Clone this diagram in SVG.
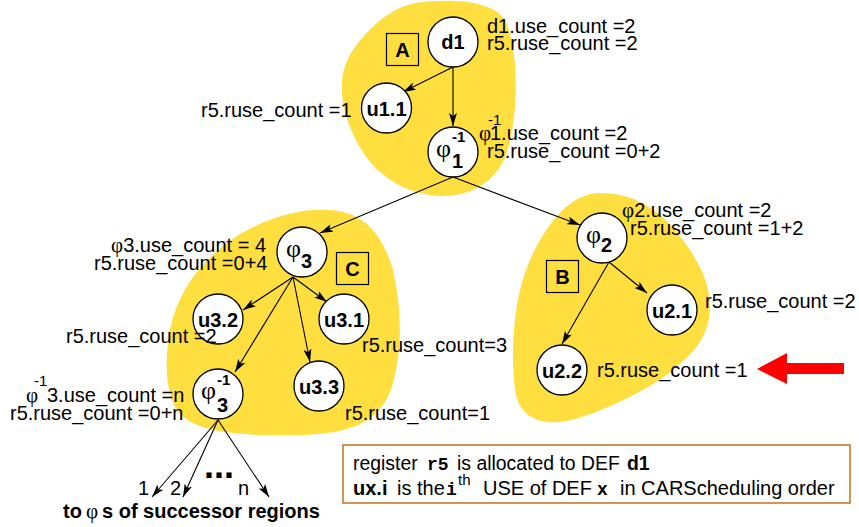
<svg xmlns="http://www.w3.org/2000/svg" width="859" height="527" viewBox="0 0 859 527">
<style>
.blob{fill:#ffdf3f;stroke:none}
.node{fill:#fff;stroke:#000;stroke-width:1.3}
.box{fill:none;stroke:#000;stroke-width:1.2}
.lbl{font-family:"Liberation Sans",Arial,sans-serif;font-size:20px;font-weight:bold;text-anchor:middle}
.t{font-family:"Liberation Sans",Arial,sans-serif;font-size:20px}
.l1{font-size:19.4px}
.b{font-weight:bold}
.m{font-family:"Liberation Mono","Courier New",monospace;font-weight:bold;font-size:18px}
.phi{font-family:"Liberation Serif","Times New Roman",serif;font-size:26px}
.ph{font-family:"Liberation Serif","Times New Roman",serif;font-size:21px}
.sub{font-family:"Liberation Sans",Arial,sans-serif;font-size:20px;font-weight:bold}
.sup{font-family:"Liberation Sans",Arial,sans-serif;font-size:15px;font-weight:bold}
.sm{font-size:15px}
.dots{font-size:36px;font-weight:bold}
.conn line{stroke:#000;stroke-width:1.1;marker-end:url(#ah)}
</style>
<defs>
<marker id="ah" viewBox="0 0 13 8" refX="13" refY="4" markerWidth="13" markerHeight="8" markerUnits="userSpaceOnUse" orient="auto">
<path d="M0,0 L13,4 L0,8 L3,4 Z" fill="#000"/>
</marker>
</defs>
<rect width="859" height="527" fill="#fff"/>

<g id="regions">
<path id="regionA" class="blob" d="M415,3 C450,-2 495,0 506,22 C520,55 518,120 506,155 C496,182 470,197 440,196 C402,194 372,172 357,142 C341,112 336,80 350,55 C365,30 390,8 415,3 Z"/>
<path id="regionC" class="blob" d="M330,210 C362,212 382,232 393,270 C403,312 402,360 390,392 C378,422 350,434 300,435 C250,436 202,434 182,416 C165,400 164,360 170,330 C178,290 202,258 240,234 C270,217 300,208 330,210 Z"/>
<path id="regionB" class="blob" d="M600,193 C640,193 667,215 690,250 C710,280 718,312 700,342 C680,372 632,400 582,417 C546,429 522,420 516,395 C510,360 512,300 530,260 C546,224 570,193 600,193 Z"/>
</g>

<g id="connectors" class="conn">
<line x1="453" y1="67" x2="403" y2="92"/>
<line x1="453" y1="67" x2="453" y2="126"/>
<line x1="453" y1="177" x2="320" y2="233"/>
<line x1="453" y1="177" x2="580" y2="225"/>
<line x1="293" y1="277" x2="243" y2="310"/>
<line x1="293" y1="277" x2="327" y2="302"/>
<line x1="293" y1="277" x2="310" y2="362"/>
<line x1="293" y1="277" x2="235" y2="372"/>
<line x1="609" y1="262" x2="647" y2="293"/>
<line x1="609" y1="262" x2="562" y2="344"/>
<line x1="218" y1="420" x2="152" y2="497"/>
<line x1="218" y1="420" x2="183" y2="497"/>
<line x1="218" y1="420" x2="269" y2="497"/>
</g>

<g id="boxA"><rect class="box" x="386.5" y="33.5" width="32" height="32"/><text class="lbl" x="402.5" y="57">A</text></g>
<g id="boxC"><rect class="box" x="336.5" y="252.5" width="32" height="32"/><text class="lbl" x="352.5" y="276">C</text></g>
<g id="boxB"><rect class="box" x="546.5" y="260.5" width="32" height="32"/><text class="lbl" x="562.5" y="284">B</text></g>

<g id="d1"><circle class="node" cx="453" cy="42" r="25"/><text class="lbl" x="453" y="49">d1</text></g>
<g id="u1.1"><circle class="node" cx="386.5" cy="108" r="25"/><text class="lbl" x="386.5" y="116">u1.1</text></g>
<g id="phi1inv"><circle class="node" cx="453" cy="152" r="25"/>
<text class="phi" x="436" y="157">φ</text><text class="sup" x="452" y="142">-1</text><text class="sub" x="452" y="168">1</text></g>
<g id="phi3"><circle class="node" cx="302" cy="252" r="25"/>
<text class="phi" x="286" y="257">φ</text><text class="sub" x="301" y="268">3</text></g>
<g id="u3.2"><circle class="node" cx="218" cy="319" r="25"/><text class="lbl" x="218" y="327">u3.2</text></g>
<g id="u3.1"><circle class="node" cx="344" cy="319" r="25"/><text class="lbl" x="344" y="327">u3.1</text></g>
<g id="u3.3"><circle class="node" cx="319" cy="386" r="25"/><text class="lbl" x="319" y="394">u3.3</text></g>
<g id="phi3inv"><circle class="node" cx="218" cy="394" r="25"/>
<text class="phi" x="201" y="399">φ</text><text class="sup" x="217" y="385">-1</text><text class="sub" x="217" y="412">3</text></g>
<g id="phi2"><circle class="node" cx="602" cy="238" r="25"/>
<text class="phi" x="586" y="243">φ</text><text class="sub" x="601" y="252">2</text></g>
<g id="u2.1"><circle class="node" cx="672" cy="310" r="25"/><text class="lbl" x="672" y="318">u2.1</text></g>
<g id="u2.2"><circle class="node" cx="562" cy="370" r="25"/><text class="lbl" x="562" y="378">u2.2</text></g>

<g id="annotations">
<text class="t" x="487" y="33">d1.use_count =2</text>
<text class="t" x="487" y="50">r5.ruse_count =2</text>
<text class="t" x="201" y="117">r5.ruse_count =1</text>
<text class="ph" x="479" y="140">φ</text>
<text class="t sm" x="488" y="125">-1</text>
<text class="t" x="490" y="140">1.use_count =2</text>
<text class="t" x="487" y="158">r5.ruse_count =0+2</text>
<text class="t" x="111" y="252"><tspan class="ph">φ</tspan>3.use_count = 4</text>
<text class="t" x="94" y="270">r5.ruse_count =0+4</text>
<text class="t" x="66" y="343">r5.ruse_count =2</text>
<text class="t" x="362" y="352">r5.ruse_count=3</text>
<text class="t" x="345" y="420">r5.ruse_count=1</text>
<text class="ph" x="26" y="402">φ</text>
<text class="t sm" x="34" y="386">-1</text>
<text class="t" x="47" y="402">3.use_count =n</text>
<text class="t" x="10" y="420">r5.ruse_count =0+n</text>
<text class="t" x="622" y="217"><tspan class="ph">φ</tspan>2.use_count =2</text>
<text class="t" x="630" y="235">r5.ruse_count =1+2</text>
<text class="t" x="705" y="308">r5.ruse_count =2</text>
<text class="t" x="597" y="377">r5.ruse_count =1</text>
<text class="t" x="138" y="495">1</text>
<text class="t" x="170" y="495">2</text>
<text class="t" x="238" y="495">n</text>
<text class="t dots" x="204" y="478">...</text>
<text class="t b" x="63" y="518">to</text>
<text class="ph" x="86" y="518">φ</text>
<text class="t b" x="102" y="518">s of successor regions</text>
</g>

<polygon id="redArrow" points="757,369 787,353 787,363 844,363 844,374 787,374 787,384" fill="#ff0000"/>

<g id="legend">
<rect x="343" y="445" width="507" height="58" fill="#fff" stroke="#cc6e1e" stroke-width="1.5"/>
<text class="t l1" x="353" y="470">register</text>
<text class="m" x="427" y="470">r5</text>
<text class="t l1" x="457" y="470">is allocated to DEF</text>
<text class="t b l1" x="627" y="470">d1</text>
<text class="t b" x="353" y="495">ux.i</text>
<text class="t" x="397" y="495">is the</text>
<text class="m" x="446" y="495">i</text>
<text class="t sm" x="458" y="485">th</text>
<text class="t" x="483" y="495">USE of DEF</text>
<text class="m" x="597" y="495">x</text>
<text class="t" x="620" y="495">in CARScheduling order</text>
</g>
</svg>
